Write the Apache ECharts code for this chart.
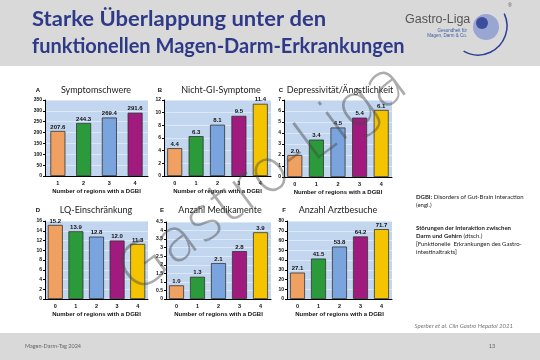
<!DOCTYPE html>
<html><head><meta charset="utf-8">
<script src="https://cdn.jsdelivr.net/npm/echarts@6/dist/echarts.min.js"></script>
<style>html,body{margin:0;padding:0;background:#fff}#c{width:540px;height:360px}</style>
</head><body><div id="c"></div>
<script>
// ---- data ----
const catsA = ['1','2','3','4'];
const cats = ['0','1','2','3','4'];
const valsA = [207.6, 244.3, 269.4, 291.6];
const valsB = [4.4, 6.3, 8.1, 9.5, 11.4];
const valsC = [2.0, 3.4, 4.5, 5.4, 6.1];
const valsD = [15.2, 13.9, 12.8, 12.0, 11.3];
const valsE = [0.8, 1.3, 2.1, 2.8, 3.9];
const labelsE = ['1.0','1.3','2.1','2.8','3.9'];
const valsF = [27.1, 41.5, 53.8, 64.2, 71.7];
const titles = ['Symptomschwere','Nicht-GI-Symptome','Depressivität/Ängstlichkeit','LQ-Einschränkung','Anzahl Medikamente','Anzahl Arztbesuche'];
const letters = ['A','B','C','D','E','F'];
const xName = 'Number of regions with a DGBI';
const yMax = [350, 12, 7, 16, 4.5, 80];
const yStep = [50, 2, 1, 2, 0.5, 10];

const colors5 = ['#f0a060','#2a9a3b','#7aa4de','#a11a7e','#f4c400'];
const colors4 = ['#f0a060','#2a9a3b','#7aa4de','#a11a7e'];

const grids = [
  {left:45, top:100, width:103, height:76},
  {left:164, top:100, width:107, height:76},
  {left:284, top:100, width:108, height:77},
  {left:45, top:221, width:103, height:78},
  {left:166, top:222, width:105, height:77},
  {left:287, top:221, width:105, height:78}
];
const titlePos = [[96,90],[221,90],[340,90],[96,210],[220,210],[338,210]];
const letterPos = [[38,90],[160,90],[281,90],[38,210],[162,210],[284,210]];

const seriesData = [valsA, valsB, valsC, valsD, valsE, valsF];
const seriesCats = [catsA, cats, cats, cats, cats, cats];

const AR = 'Liberation Sans, Arial, sans-serif';
const CAL = 'Lato, sans-serif';

const option = {
  animation:false,
  backgroundColor:'#ffffff',
  grid: grids.map(g => Object.assign({show:true, backgroundColor:'#c2d6ef', borderWidth:0}, g)),
  xAxis: seriesCats.map((c,i)=>({
    type:'category', gridIndex:i, data:c,
    name:xName, nameLocation:'middle', nameGap:12,
    nameTextStyle:{fontFamily:AR, fontWeight:'bold', fontSize:6, color:'#111'},
    axisLine:{lineStyle:{color:'#000', width:1}},
    axisTick:{show:false},
    axisLabel:{fontFamily:AR, fontWeight:'bold', fontSize:5.5, color:'#111', margin:4},
  })),
  yAxis: yMax.map((m,i)=>({
    type:'value', gridIndex:i, min:0, max:m, interval:yStep[i],
    axisLine:{show:true, lineStyle:{color:'#000', width:1}},
    axisTick:{show:true, length:2, lineStyle:{color:'#000'}},
    axisLabel:{fontFamily:AR, fontWeight:'bold', fontSize:5, color:'#111', margin:3},
    splitLine:{show:true, lineStyle:{color:'#dce8f7', width:1}}
  })),
  series: seriesData.map((d,i)=>({
    type:'bar', xAxisIndex:i, yAxisIndex:i, barWidth:15,
    data: d.map((v,j)=>({value:v, itemStyle:{color:(i===0?colors4:colors5)[j]}})),
    itemStyle:{borderColor:'#333', borderWidth:0.8},
    label:{show:true, position:'top', distance:1, fontFamily:AR, fontWeight:'bold', fontSize:6, color:'#111',
      formatter: p => i===4 ? labelsE[p.dataIndex] : (Number.isInteger(p.value)? p.value.toFixed(1): String(p.value))}
  })),
  graphic: [
    {type:'rect', shape:{x:0,y:0,width:540,height:66}, style:{fill:'#d9d9d9'}, z:-10},
    {type:'rect', shape:{x:0,y:333,width:540,height:27}, style:{fill:'#d9d9d9'}, z:-10},
    {type:'text', x:32, y:20, scaleX:1.1, style:{text:'Starke Überlappung unter den', fontFamily:CAL, fontWeight:'bold', fontSize:20, fill:'#2e3a88', textVerticalAlign:'middle'}},
    {type:'text', x:32, y:47, style:{text:'funktionellen Magen-Darm-Erkrankungen', fontFamily:CAL, fontWeight:'bold', fontSize:20, fill:'#2e3a88', textVerticalAlign:'middle'}},
    // logo
    {type:'text', x:405, y:20, style:{text:'Gastro-Liga', fontFamily:AR, fontSize:12.5, fill:'#555', textVerticalAlign:'middle'}},
    {type:'text', x:467, y:31, style:{text:'Gesundheit für', fontFamily:AR, fontSize:4.5, fill:'#3a5aa8', textAlign:'right', textVerticalAlign:'middle'}},
    {type:'text', x:467, y:36, style:{text:'Magen, Darm & Co.', fontFamily:AR, fontSize:4.5, fill:'#3a5aa8', textAlign:'right', textVerticalAlign:'middle'}},
    {type:'circle', shape:{cx:486, cy:27, r:13}, style:{fill:'#9aa6d2'}},
    {type:'circle', shape:{cx:482, cy:23, r:6}, style:{fill:'#3b4e9e'}},
    {type:'arc', shape:{cx:478, cy:26, r:29, startAngle:-0.44, endAngle:2.09, clockwise:true}, style:{stroke:'#2c3f94', lineWidth:1.5, fill:null}},
    {type:'text', x:508, y:6, style:{text:'®', fontFamily:AR, fontSize:5, fill:'#555', textVerticalAlign:'middle'}},
    // chart titles
    ...titles.map((t,i)=>({type:'text', x:titlePos[i][0], y:titlePos[i][1], style:{text:t, fontFamily:CAL, fontSize:9, fill:'#222', textAlign:'center', textVerticalAlign:'middle'}})),
    ...letters.map((t,i)=>({type:'text', x:letterPos[i][0], y:letterPos[i][1], style:{text:t, fontFamily:AR, fontWeight:'bold', fontSize:6, fill:'#111', textAlign:'center', textVerticalAlign:'middle'}})),
    // side note
    {type:'text', x:416, y:201, style:{text:'{b|DGBI:} Disorders of Gut-Brain Interaction\n(engl.)', fontFamily:CAL, fontSize:6, lineHeight:8, fill:'#222', textVerticalAlign:'middle', rich:{b:{fontFamily:CAL, fontWeight:'bold', fontSize:6, fill:'#222'}}}},
    {type:'text', x:416, y:224, style:{text:'{b|Störungen der Interaktion zwischen}\n{b|Darm und Gehirn} (dtsch.)\n[Funktionelle  Erkrankungen des Gastro-\nintestinaltrakts]', fontFamily:CAL, fontSize:6, lineHeight:8, fill:'#222', textVerticalAlign:'top', rich:{b:{fontFamily:CAL, fontWeight:'bold', fontSize:6, fill:'#222'}}}},
    // footer
    {type:'text', x:513, y:326, style:{text:'Sperber et al. Clin Gastro Hepatol 2021', fontFamily:CAL, fontStyle:'italic', fontSize:6, fill:'#777', textAlign:'right', textVerticalAlign:'middle'}},
    {type:'text', x:25, y:346, style:{text:'Magen-Darm-Tag 2024', fontFamily:CAL, fontSize:5.5, fill:'#666', textVerticalAlign:'middle'}},
    {type:'text', x:492, y:346, style:{text:'13', fontFamily:CAL, fontSize:5.5, fill:'#666', textAlign:'center', textVerticalAlign:'middle'}},
    // watermark
    {type:'text', x:264, y:180, rotation:0.64, z:100, style:{text:'Gastro-Liga', fontFamily:'DejaVu Sans', fontWeight:200, fontSize:60, fill:'rgba(70,70,70,0.45)', textAlign:'center', textVerticalAlign:'middle'}}
  ]
};
const chart = echarts.init(document.getElementById('c'), null, {renderer:'canvas'});
chart.setOption(option);
</script></body></html>
